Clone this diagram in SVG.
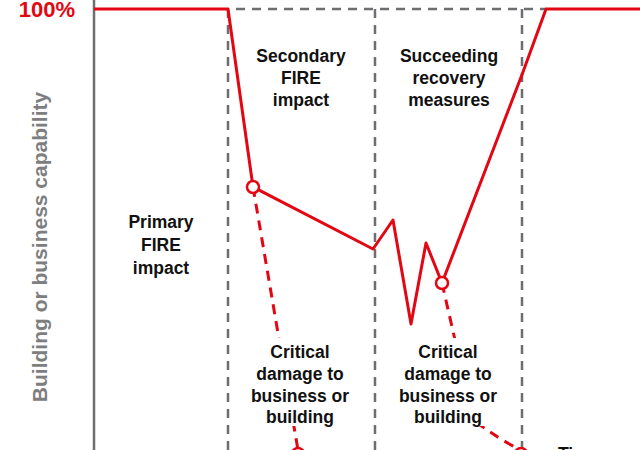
<svg xmlns="http://www.w3.org/2000/svg" width="640" height="450" viewBox="0 0 640 450">
<style>
.t{font-family:"Liberation Sans",Arial,sans-serif;font-weight:bold;font-size:17.5px;fill:#111;text-anchor:middle}
.g{stroke:#6d6e71;stroke-width:2.5;stroke-dasharray:9,7;fill:none}
.r{stroke:#e30613;stroke-width:3;fill:none;stroke-linejoin:round}
.rd{stroke:#e30613;stroke-width:3;fill:none;stroke-dasharray:10,7}
.c{fill:#fff;stroke:#e30613;stroke-width:2.5}
</style>
<rect width="640" height="450" fill="#fff"/>
<g id="axes">
<line x1="94" y1="0" x2="94" y2="450" stroke="#6d6e71" stroke-width="2.5"/>
<text x="75" y="17" style="font-family:'Liberation Sans',Arial,sans-serif;font-weight:bold;font-size:22px;fill:#e30613;text-anchor:end">100%</text>
<text transform="translate(47,247) rotate(-90)" style="font-family:'Liberation Sans',Arial,sans-serif;font-weight:bold;font-size:21px;fill:#7d7e80;text-anchor:middle">Building or business capability</text>
</g>
<g id="connectors">
<line class="g" x1="228" y1="9" x2="228" y2="450"/>
<line class="g" x1="375" y1="9" x2="375" y2="450"/>
<line class="g" x1="522" y1="9" x2="522" y2="450"/>
<line class="g" x1="236" y1="9" x2="546" y2="9"/>
<path class="rd" d="M253,187 L298,450"/>
<path class="rd" d="M442,283 L455,340 M476,422 Q500,440 521,450"/>
<path class="r" d="M94,9 L228,9 L253,187 L373,249 L393,220 L411,324 L426,243 L442,283 L523,72 L546,9 L640,9"/>
<circle class="c" cx="253" cy="187" r="6"/>
<circle class="c" cx="442" cy="283" r="6"/>
<circle class="c" cx="298" cy="454" r="6"/>
<circle class="c" cx="521" cy="454" r="6"/>
</g>
<g id="primary"><text class="t" x="161" y="228">Primary</text><text class="t" x="161" y="251">FIRE</text><text class="t" x="161" y="274">impact</text></g>
<g id="secondary"><text class="t" x="301" y="62">Secondary</text><text class="t" x="301" y="84">FIRE</text><text class="t" x="301" y="106">impact</text></g>
<g id="recovery"><text class="t" x="449" y="62">Succeeding</text><text class="t" x="449" y="84">recovery</text><text class="t" x="449" y="106">measures</text></g>
<g id="crit1"><rect x="248" y="338" width="105" height="88" fill="#fff"/><text class="t" x="300" y="358">Critical</text><text class="t" x="300" y="380">damage to</text><text class="t" x="300" y="402">business or</text><text class="t" x="300" y="423">building</text></g>
<g id="crit2"><rect x="396" y="338" width="104" height="88" fill="#fff"/><text class="t" x="448" y="358">Critical</text><text class="t" x="448" y="380">damage to</text><text class="t" x="448" y="402">business or</text><text class="t" x="448" y="423">building</text></g>
<g id="time"><text class="t" x="558" y="460" style="text-anchor:start">Time</text></g>
</svg>
